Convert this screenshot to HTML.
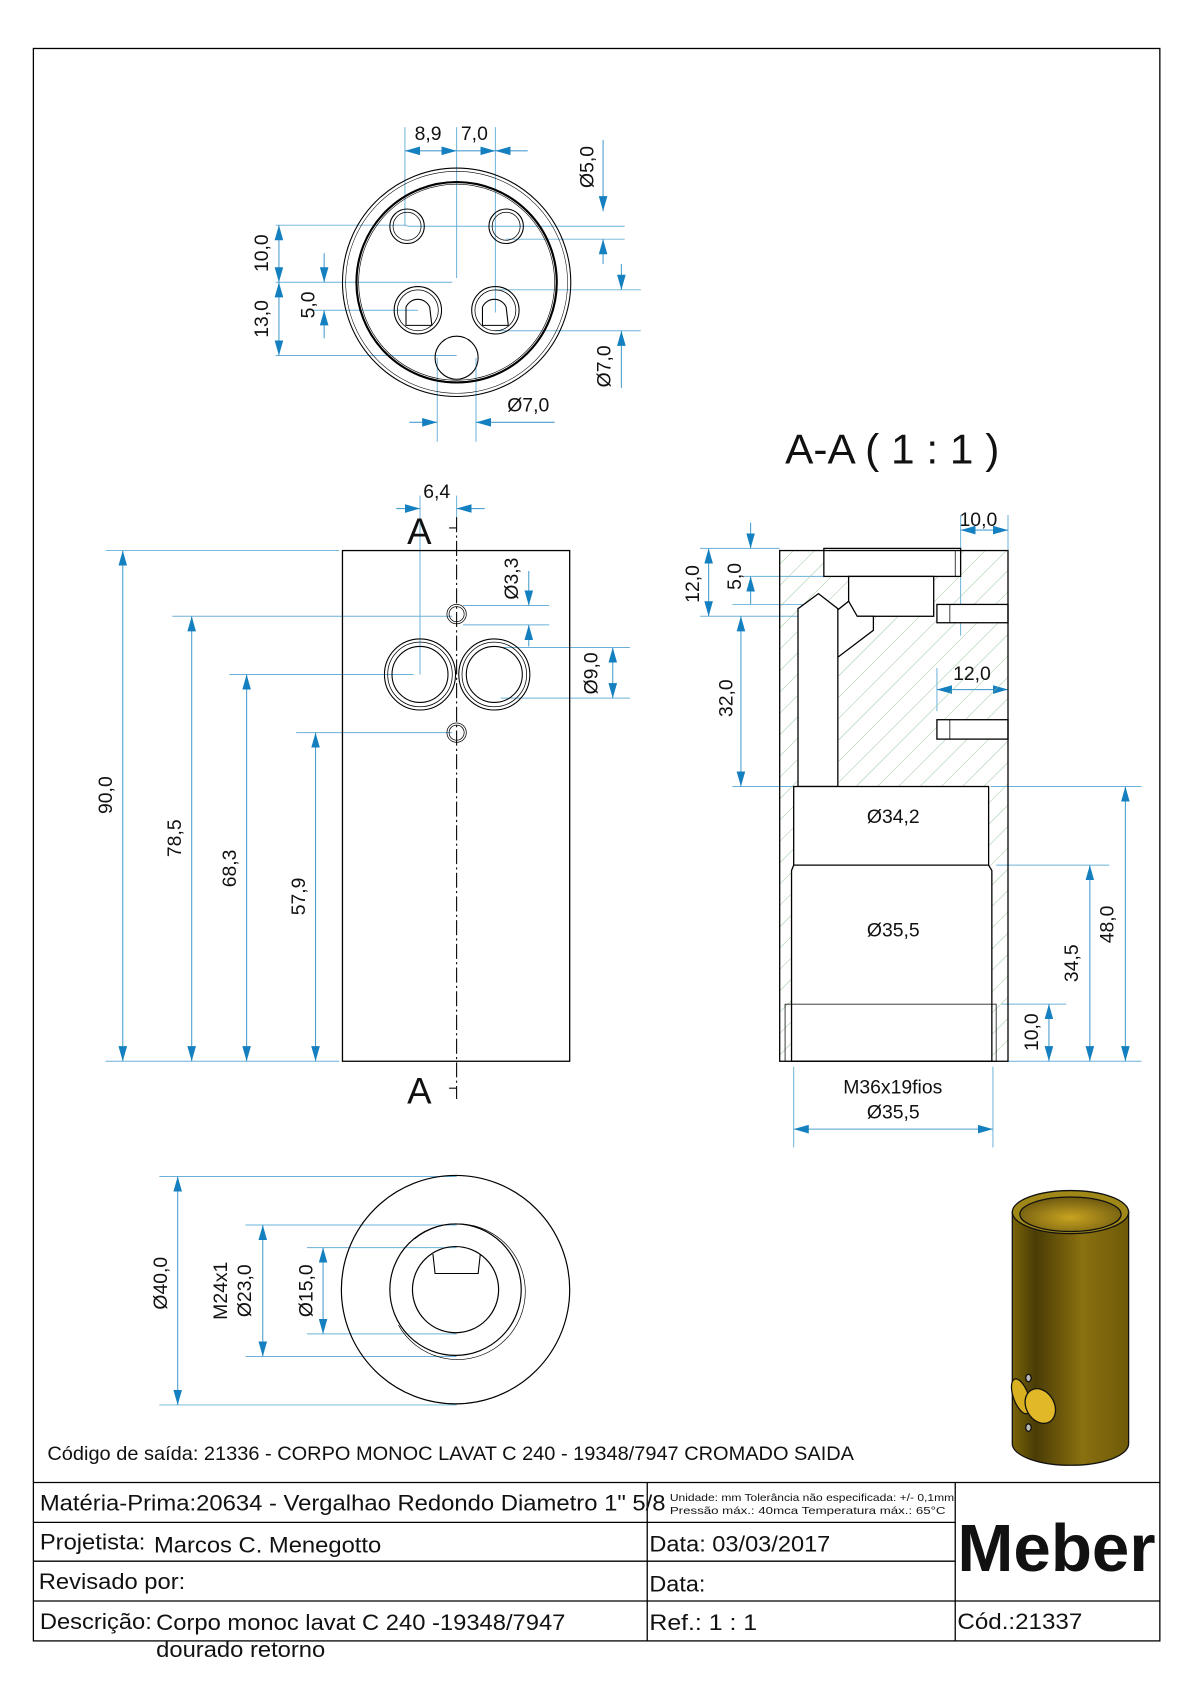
<!DOCTYPE html>
<html><head><meta charset="utf-8"><style>
html,body{margin:0;padding:0;background:#fff;}
svg{display:block;}
text{font-family:"Liberation Sans",Arial,sans-serif;fill:#111;}
</style></head><body>
<svg width="1190" height="1684" viewBox="0 0 1105 1563" preserveAspectRatio="none" xmlns="http://www.w3.org/2000/svg">
<defs>
<marker id="a" viewBox="0 0 14 8" refX="14" refY="4" markerWidth="14" markerHeight="8" markerUnits="userSpaceOnUse" orient="auto-start-reverse"><path d="M0,0 L14,4 L0,8 Z" fill="#1580c0"/></marker>
<pattern id="h" patternUnits="userSpaceOnUse" width="14" height="14" patternTransform="rotate(45)"><line x1="0" y1="0" x2="0" y2="14" stroke="#8fbf8f" stroke-width="0.8"/></pattern>
<linearGradient id="br" x1="0" x2="1" y1="0" y2="0"><stop offset="0" stop-color="#7a6408"/><stop offset="0.2" stop-color="#4a3c05"/><stop offset="0.6" stop-color="#8a7010"/><stop offset="1" stop-color="#6e5a08"/></linearGradient>
<radialGradient id="in" cx="0.5" cy="0.6" r="0.6"><stop offset="0" stop-color="#c9a420"/><stop offset="1" stop-color="#6e5a10"/></radialGradient>
</defs>
<rect x="0" y="0" width="1105" height="1563" fill="#fff"/>
<rect x="31" y="45" width="1046" height="1478" fill="none" stroke="#000" stroke-width="1.2"/>

<g fill="none" stroke="#6ab0d8" stroke-width="0.9">
<line x1="376" y1="118" x2="376" y2="210"/><line x1="424" y1="118" x2="424" y2="258"/><line x1="460" y1="118" x2="460" y2="290"/>
<line x1="378" y1="210" x2="580" y2="210"/><line x1="470" y1="222" x2="580" y2="222"/>
<line x1="256" y1="209" x2="378" y2="209"/><line x1="256" y1="262" x2="420" y2="262"/><line x1="256" y1="330" x2="424" y2="330"/>
<line x1="290" y1="288" x2="388" y2="288"/>
<line x1="460" y1="269" x2="595" y2="269"/><line x1="460" y1="307" x2="595" y2="307"/>
<line x1="406" y1="332" x2="406" y2="410"/><line x1="442" y1="332" x2="442" y2="410"/>
<line x1="390" y1="460" x2="390" y2="626"/><line x1="424" y1="460" x2="424" y2="480"/>
<line x1="98" y1="511" x2="315" y2="511"/><line x1="98" y1="985" x2="315" y2="985"/>
<line x1="160" y1="572" x2="420" y2="572"/><line x1="213" y1="626" x2="384" y2="626"/><line x1="275" y1="680" x2="420" y2="680"/>
<line x1="430" y1="562" x2="510" y2="562"/><line x1="430" y1="580" x2="510" y2="580"/>
<line x1="465" y1="601" x2="585" y2="601"/><line x1="465" y1="648" x2="585" y2="648"/>
<line x1="892" y1="478" x2="892" y2="590"/><line x1="936" y1="478" x2="936" y2="511"/>
<line x1="870" y1="620" x2="870" y2="660"/>
<line x1="650" y1="509" x2="724" y2="509"/><line x1="690" y1="535" x2="770" y2="535"/><line x1="680" y1="561" x2="760" y2="561"/><line x1="650" y1="572" x2="800" y2="572"/>
<line x1="680" y1="730" x2="740" y2="730"/><line x1="920" y1="730" x2="1060" y2="730"/>
<line x1="925" y1="803" x2="1030" y2="803"/><line x1="930" y1="932" x2="990" y2="932"/><line x1="936" y1="985" x2="1060" y2="985"/>
<line x1="737" y1="990" x2="737" y2="1065"/><line x1="922" y1="990" x2="922" y2="1065"/>
<line x1="148" y1="1092" x2="424" y2="1092"/><line x1="148" y1="1304" x2="424" y2="1304"/>
<line x1="228" y1="1137" x2="424" y2="1137"/><line x1="228" y1="1259" x2="424" y2="1259"/>
<line x1="285" y1="1158" x2="424" y2="1158"/><line x1="285" y1="1238" x2="424" y2="1238"/>
</g>

<g fill="none" stroke="#4a9fcf" stroke-width="1">
<line x1="376" y1="140" x2="424" y2="140" marker-start="url(#a)" marker-end="url(#a)"/>
<line x1="424" y1="140" x2="460" y2="140" marker-end="url(#a)"/><line x1="490" y1="140" x2="460" y2="140" marker-end="url(#a)"/>
<line x1="560" y1="130" x2="560" y2="196" marker-end="url(#a)"/><line x1="560" y1="245" x2="560" y2="222" marker-end="url(#a)"/>
<line x1="577" y1="245" x2="577" y2="269" marker-end="url(#a)"/><line x1="577" y1="360" x2="577" y2="307" marker-end="url(#a)"/>
<line x1="259" y1="209" x2="259" y2="262" marker-start="url(#a)" marker-end="url(#a)"/>
<line x1="259" y1="262" x2="259" y2="330" marker-start="url(#a)" marker-end="url(#a)"/>
<line x1="301" y1="235" x2="301" y2="262" marker-end="url(#a)"/><line x1="301" y1="314" x2="301" y2="288" marker-end="url(#a)"/>
<line x1="380" y1="392" x2="406" y2="392" marker-end="url(#a)"/><line x1="515" y1="392" x2="442" y2="392" marker-end="url(#a)"/>
<line x1="368" y1="472" x2="390" y2="472" marker-end="url(#a)"/><line x1="450" y1="472" x2="424" y2="472" marker-end="url(#a)"/>
<line x1="114" y1="511" x2="114" y2="985" marker-start="url(#a)" marker-end="url(#a)"/>
<line x1="178" y1="572" x2="178" y2="985" marker-start="url(#a)" marker-end="url(#a)"/>
<line x1="229" y1="626" x2="229" y2="985" marker-start="url(#a)" marker-end="url(#a)"/>
<line x1="293" y1="680" x2="293" y2="985" marker-start="url(#a)" marker-end="url(#a)"/>
<line x1="491" y1="530" x2="491" y2="562" marker-end="url(#a)"/><line x1="491" y1="600" x2="491" y2="580" marker-end="url(#a)"/>
<line x1="569" y1="601" x2="569" y2="648" marker-start="url(#a)" marker-end="url(#a)"/>
<line x1="892" y1="492" x2="936" y2="492" marker-start="url(#a)" marker-end="url(#a)"/>
<line x1="870" y1="640" x2="936" y2="640" marker-start="url(#a)" marker-end="url(#a)"/>
<line x1="658" y1="509" x2="658" y2="572" marker-start="url(#a)" marker-end="url(#a)"/>
<line x1="697" y1="485" x2="697" y2="509" marker-end="url(#a)"/><line x1="697" y1="561" x2="697" y2="535" marker-end="url(#a)"/>
<line x1="688" y1="572" x2="688" y2="730" marker-start="url(#a)" marker-end="url(#a)"/>
<line x1="1045" y1="730" x2="1045" y2="985" marker-start="url(#a)" marker-end="url(#a)"/>
<line x1="1012" y1="803" x2="1012" y2="985" marker-start="url(#a)" marker-end="url(#a)"/>
<line x1="974" y1="932" x2="974" y2="985" marker-start="url(#a)" marker-end="url(#a)"/>
<line x1="737" y1="775" x2="918" y2="775" marker-start="url(#a)" marker-end="url(#a)"/>
<line x1="735" y1="880" x2="922" y2="880" marker-start="url(#a)" marker-end="url(#a)"/>
<line x1="737" y1="1048" x2="922" y2="1048" marker-start="url(#a)" marker-end="url(#a)"/>
<line x1="165" y1="1092" x2="165" y2="1304" marker-start="url(#a)" marker-end="url(#a)"/>
<line x1="244" y1="1137" x2="244" y2="1259" marker-start="url(#a)" marker-end="url(#a)"/>
<line x1="300" y1="1158" x2="300" y2="1238" marker-start="url(#a)" marker-end="url(#a)"/>
</g>

<g fill="none" stroke="#000">
<circle cx="424" cy="262" r="106" stroke-width="1"/><circle cx="424" cy="262" r="103" stroke-width="0.5"/>
<circle cx="424" cy="262" r="93" stroke-width="2"/><circle cx="424" cy="262" r="91" stroke-width="0.6"/>
<circle cx="378" cy="210" r="16" stroke-width="1"/><circle cx="378" cy="210" r="13" stroke-width="0.7"/>
<circle cx="470" cy="210" r="16" stroke-width="1"/><circle cx="470" cy="210" r="13" stroke-width="0.7"/>
<circle cx="388" cy="288" r="22" stroke-width="1"/><circle cx="388" cy="288" r="19" stroke-width="0.7"/>
<circle cx="460" cy="288" r="22" stroke-width="1"/><circle cx="460" cy="288" r="19" stroke-width="0.7"/>
<path d="M377,302 L377,285 A12,12 0 0 1 399,285 L401,302 Z" stroke-width="1"/>
<path d="M448,302 L448,285 A12,12 0 0 1 470,285 L472,302 Z" stroke-width="1"/>
<circle cx="424" cy="332" r="20" stroke-width="1"/>
</g>

<g fill="none" stroke="#000">
<rect x="318" y="511" width="211" height="474" stroke-width="1.2"/>
<line x1="424" y1="480" x2="424" y2="1020" stroke-width="1" stroke-dasharray="14,3,2,3"/>
<line x1="417" y1="490" x2="424" y2="490"/><line x1="417" y1="1010" x2="424" y2="1010"/>
<circle cx="390" cy="626" r="33" stroke-width="1"/><circle cx="390" cy="626" r="30" stroke-width="0.7"/><circle cx="390" cy="626" r="26" stroke-width="1"/>
<circle cx="459" cy="626" r="33" stroke-width="1"/><circle cx="459" cy="626" r="30" stroke-width="0.7"/><circle cx="459" cy="626" r="26" stroke-width="1"/>
<circle cx="424" cy="570" r="9" stroke-width="0.7"/><circle cx="424" cy="570" r="7" stroke-width="0.7"/>
<circle cx="424" cy="680" r="9" stroke-width="0.7"/><circle cx="424" cy="680" r="7" stroke-width="0.7"/>
</g>

<rect x="724" y="511" width="212" height="474" fill="url(#h)"/>
<g fill="#fff" stroke="#000" stroke-width="1.2">
<rect x="765" y="509" width="127" height="26"/>
<rect x="788" y="535" width="79" height="37"/>
<path d="M778,566 L788,558 L796,572 L811,572 L811,585 L778,610 Z"/>
<path d="M741,730 L741,565 L760,551 L778,565 L778,730 Z"/>
<rect x="870" y="561" width="66" height="17"/><rect x="870" y="668" width="66" height="18"/>
<rect x="737" y="730" width="181" height="73"/>
<path d="M735,985 L735,808 L737,803 L918,803 L921,808 L921,985 Z"/>
</g>
<g fill="none" stroke="#000">
<rect x="724" y="511" width="212" height="474" stroke-width="1.2"/>
<rect x="729" y="932" width="196" height="53" stroke-width="0.7"/>
<line x1="887" y1="511" x2="887" y2="535" stroke-width="0.7"/>
<line x1="882" y1="561" x2="882" y2="578" stroke-width="0.7"/><line x1="882" y1="668" x2="882" y2="686" stroke-width="0.7"/>
</g>

<g fill="none" stroke="#000">
<circle cx="423" cy="1197" r="106" stroke-width="1.1"/>
<circle cx="423" cy="1197" r="61" stroke-width="1.1"/>
<path d="M385,1150 A63,63 0 1 1 370,1230" stroke-width="0.6"/>
<circle cx="423" cy="1197" r="40" stroke-width="1.1"/>
<path d="M402,1164 L404,1182 L444,1182 L446,1164" stroke-width="1"/>
</g>

<g stroke="#111" stroke-width="1.2">
<path d="M940,1125 L940,1340 A54,20 0 0 0 1048,1340 L1048,1125 Z" fill="url(#br)"/>
<ellipse cx="994" cy="1125" rx="54" ry="20" fill="#a08818"/>
<ellipse cx="994" cy="1127" rx="47" ry="16" fill="url(#in)"/>
<ellipse cx="948" cy="1296" rx="7" ry="17" fill="#d8b020" transform="rotate(-20 948 1296)"/>
<ellipse cx="966" cy="1305" rx="13" ry="17" fill="#e0b828" transform="rotate(-30 966 1305)"/>
<ellipse cx="955" cy="1279" rx="2.5" ry="3.5" fill="#bbb"/><ellipse cx="955" cy="1325" rx="2.5" ry="3.5" fill="#bbb"/>
</g>

<g font-size="18">
<text x="385" y="130">8,9</text><text x="428" y="130">7,0</text>
<text x="471" y="382">Ø7,0</text>
<text x="393" y="462">6,4</text>
<text x="891" y="488">10,0</text><text x="885" y="631">12,0</text>
<text x="805" y="764">Ø34,2</text><text x="805" y="869">Ø35,5</text>
<text x="783" y="1015">M36x19fios</text><text x="805" y="1038">Ø35,5</text>
</g>
<g font-size="18" text-anchor="middle">
<text transform="translate(551,155) rotate(-90)">Ø5,0</text>
<text transform="translate(567,340) rotate(-90)">Ø7,0</text>
<text transform="translate(249,235) rotate(-90)">10,0</text>
<text transform="translate(249,296) rotate(-90)">13,0</text>
<text transform="translate(292,283) rotate(-90)">5,0</text>
<text transform="translate(104,738) rotate(-90)">90,0</text>
<text transform="translate(168,778) rotate(-90)">78,5</text>
<text transform="translate(219,806) rotate(-90)">68,3</text>
<text transform="translate(283,832) rotate(-90)">57,9</text>
<text transform="translate(481,537) rotate(-90)">Ø3,3</text>
<text transform="translate(555,625) rotate(-90)">Ø9,0</text>
<text transform="translate(649,542) rotate(-90)">12,0</text>
<text transform="translate(688,535) rotate(-90)">5,0</text>
<text transform="translate(680,648) rotate(-90)">32,0</text>
<text transform="translate(1034,858) rotate(-90)">48,0</text>
<text transform="translate(1001,894) rotate(-90)">34,5</text>
<text transform="translate(964,958) rotate(-90)">10,0</text>
<text transform="translate(155,1191) rotate(-90)">Ø40,0</text>
<text transform="translate(211,1198) rotate(-90)">M24x1</text>
<text transform="translate(233,1198) rotate(-90)">Ø23,0</text>
<text transform="translate(290,1198) rotate(-90)">Ø15,0</text>
</g>
<text x="378" y="505" font-size="34">A</text>
<text x="378" y="1024" font-size="34">A</text>
<text x="729" y="430" font-size="39" textLength="199" lengthAdjust="spacingAndGlyphs">A-A ( 1 : 1 )</text>

<text x="44" y="1355" font-size="18" textLength="749" lengthAdjust="spacingAndGlyphs">Código de saída: 21336 - CORPO MONOC LAVAT C 240 - 19348/7947 CROMADO SAIDA</text>
<g stroke="#000" stroke-width="1.2">
<line x1="31" y1="1376" x2="1077" y2="1376"/>
<line x1="31" y1="1413" x2="887" y2="1413"/>
<line x1="31" y1="1449" x2="887" y2="1449"/>
<line x1="31" y1="1486" x2="1077" y2="1486"/>
<line x1="601" y1="1376" x2="601" y2="1523"/>
<line x1="887" y1="1376" x2="887" y2="1523"/>
</g>
<g font-size="21" lengthAdjust="spacingAndGlyphs">
<text x="37" y="1402" textLength="581" lengthAdjust="spacingAndGlyphs">Matéria-Prima:20634 - Vergalhao Redondo Diametro 1" 5/8</text>
<text x="37" y="1438" textLength="98" lengthAdjust="spacingAndGlyphs">Projetista:</text>
<text x="143" y="1441" textLength="211" lengthAdjust="spacingAndGlyphs">Marcos C. Menegotto</text>
<text x="603" y="1440" textLength="168" lengthAdjust="spacingAndGlyphs">Data: 03/03/2017</text>
<text x="36" y="1475" textLength="136" lengthAdjust="spacingAndGlyphs">Revisado por:</text>
<text x="603" y="1477" textLength="52" lengthAdjust="spacingAndGlyphs">Data:</text>
<text x="37" y="1512" textLength="104" lengthAdjust="spacingAndGlyphs">Descrição:</text>
<text x="145" y="1513" textLength="380" lengthAdjust="spacingAndGlyphs">Corpo monoc lavat C 240 -19348/7947</text>
<text x="145" y="1538" textLength="157" lengthAdjust="spacingAndGlyphs">dourado retorno</text>
<text x="603" y="1513" textLength="100" lengthAdjust="spacingAndGlyphs">Ref.:  1 : 1</text>
<text x="889" y="1512" textLength="116" lengthAdjust="spacingAndGlyphs">Cód.:21337</text>
</g>
<text x="622" y="1393" font-size="9.5" textLength="264" lengthAdjust="spacingAndGlyphs">Unidade: mm Tolerância não especificada: +/- 0,1mm</text>
<text x="622" y="1405" font-size="9.5" textLength="256" lengthAdjust="spacingAndGlyphs">Pressão máx.: 40mca        Temperatura máx.: 65°C</text>
<text x="889" y="1458" font-size="62" font-weight="bold" textLength="184" lengthAdjust="spacingAndGlyphs">Meber</text>
</svg>
</body></html>
